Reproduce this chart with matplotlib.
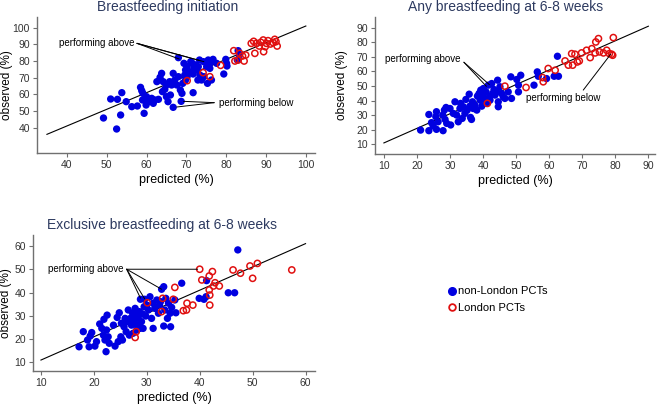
import matplotlib
matplotlib.use("Agg")
import matplotlib.pyplot as plt
from matplotlib.lines import Line2D

plt.rcParams['font.family'] = ['Liberation Sans', 'DejaVu Sans']

# ---- Breastfeeding initiation ----
init_blue_x = [49.2, 51.0, 52.7, 52.5, 53.5, 53.8, 54.9, 56.3, 57.7, 58.5, 58.8, 59.0, 59.4, 59.1,
               60.0, 60.4, 59.9, 61.7, 62.1, 61.3, 63.0, 62.6, 63.4, 63.8, 64.2, 64.0, 64.6, 65.0,
               65.0, 65.4, 65.8, 66.3, 66.0, 66.7, 67.1, 66.7, 67.6, 68.0, 68.0, 68.5, 68.9, 68.7,
               69.1, 69.4, 69.6, 69.8, 69.8, 70.2, 70.2, 70.7, 71.1, 71.5, 71.7, 71.9, 71.7, 72.3,
               72.7, 72.9, 73.0, 73.3, 73.4, 73.8, 74.3, 74.4, 75.1, 75.3, 75.5, 75.9, 75.9, 76.3,
               76.7, 77.6, 79.4, 79.9, 80.1, 80.2, 83.0, 83.3, 82.8]
init_blue_y = [45.8, 57.2, 57.0, 39.2, 47.6, 61.0, 55.6, 52.6, 53.0, 64.2, 62.2, 56.6, 48.6, 60.6,
               58.6, 55.6, 53.6, 54.6, 56.6, 57.6, 57.0, 67.6, 70.2, 72.6, 67.6, 61.6, 63.0, 65.6,
               58.6, 55.6, 67.6, 65.6, 59.6, 72.6, 68.6, 52.2, 65.6, 82.0, 70.6, 62.6, 60.6, 55.8,
               66.6, 78.6, 71.6, 74.6, 68.6, 76.6, 70.6, 73.6, 79.6, 78.6, 72.2, 75.6, 61.0, 77.6,
               74.6, 68.6, 76.6, 80.6, 71.6, 68.6, 79.6, 70.6, 76.6, 66.6, 80.6, 78.6, 75.6, 68.6,
               81.0, 78.6, 72.2, 81.0, 78.6, 77.0, 86.2, 83.6, 80.6]
init_red_x = [70.2, 74.2, 75.9, 78.6, 81.9, 82.2, 83.0, 83.4, 84.1, 84.5, 84.9, 86.3, 86.9, 87.2,
              87.6, 88.3, 88.7, 89.3, 89.4, 89.8, 90.1, 90.5, 91.1, 91.8, 92.2, 92.5, 92.8]
init_red_y = [68.2, 73.0, 70.6, 77.4, 86.2, 80.0, 80.6, 84.6, 83.0, 80.0, 83.6, 90.6, 91.8, 84.6,
              90.6, 89.0, 91.2, 92.6, 85.6, 88.6, 90.6, 92.2, 90.2, 91.0, 93.0, 91.6, 89.0]
init_fit_x = [35, 100]
init_fit_y = [36, 101]

# ---- Any breastfeeding at 6-8 weeks ----
any_blue_x = [21.1, 23.6, 23.6, 24.4, 24.9, 25.7, 25.9, 25.9, 26.4, 27.8, 27.9, 28.3, 28.5, 28.8,
              29.0, 30.0, 30.2, 31.0, 31.5, 32.0, 32.5, 33.0, 33.2, 33.7, 34.0, 34.5, 34.8, 35.2,
              35.8, 36.0, 36.2, 36.5, 36.8, 37.0, 37.5, 38.1, 38.3, 38.8, 39.1, 39.3, 39.6, 39.9,
              40.1, 40.3, 40.9, 41.1, 41.6, 41.9, 42.1, 42.6, 42.9, 43.3, 43.6, 44.1, 44.4, 44.6,
              44.6, 45.1, 45.6, 46.1, 46.6, 47.6, 48.4, 48.6, 50.2, 50.7, 50.7, 51.4, 55.4, 56.4,
              56.7, 59.2, 61.5, 62.5, 62.8]
any_blue_y = [19.8, 30.5, 19.4, 24.9, 22.6, 29.0, 20.3, 32.4, 25.5, 30.1, 19.4, 33.5, 27.1, 35.3,
              24.4, 34.6, 23.3, 31.2, 39.2, 30.1, 25.5, 34.6, 38.1, 27.8, 35.8, 31.2, 40.8, 33.5,
              44.4, 36.2, 28.5, 27.1, 39.2, 34.6, 36.9, 33.5, 43.1, 44.9, 40.3, 47.2, 36.2, 43.8,
              48.3, 40.8, 46.0, 38.1, 50.6, 42.6, 40.3, 51.7, 44.9, 47.6, 43.8, 46.0, 54.0, 39.2,
              35.8, 49.5, 44.9, 42.6, 41.5, 46.0, 56.3, 41.5, 54.5, 50.6, 46.0, 57.4, 50.6, 59.7,
              56.7, 55.1, 56.7, 70.4, 56.7]
any_red_x = [41.3, 46.6, 53.0, 58.0, 58.2, 59.7, 61.8, 64.8, 65.8, 66.8, 67.1, 67.8, 68.5, 69.1,
             69.8, 71.3, 72.4, 72.9, 73.9, 74.1, 74.9, 75.2, 76.4, 77.4, 78.2, 78.9, 79.4, 79.2]
any_red_y = [38.1, 49.9, 49.0, 55.8, 52.9, 62.0, 60.8, 67.2, 64.3, 72.2, 64.3, 71.8, 66.5, 67.2,
             72.7, 74.5, 69.5, 75.6, 72.7, 80.2, 82.5, 73.4, 72.7, 74.5, 72.2, 71.8, 83.2, 71.1]
any_fit_x = [10, 90]
any_fit_y = [11, 91]

# ---- Exclusive breastfeeding at 6-8 weeks ----
exc_blue_x = [17.2, 18.0, 18.8, 19.1, 19.3, 19.6, 20.2, 20.5, 21.1, 21.5, 21.8, 21.9, 22.1, 22.3,
              22.4, 22.5, 22.7, 22.9, 23.7, 24.0, 24.4, 24.6, 24.8, 25.1, 25.2, 25.4, 25.7, 25.9,
              26.1, 26.3, 26.5, 26.7, 26.9, 27.1, 27.3, 27.4, 27.6, 27.8, 28.0, 28.1, 28.2, 28.4,
              28.6, 28.7, 28.8, 29.0, 29.2, 29.3, 29.5, 29.6, 29.8, 30.0, 30.3, 30.6, 30.9, 31.2,
              31.5, 31.9, 31.2, 32.2, 32.4, 32.6, 32.8, 33.2, 33.2, 33.4, 33.6, 33.9, 34.1, 34.4,
              34.5, 34.7, 35.3, 35.5, 36.6, 39.9, 40.8, 41.2, 41.3, 45.4, 46.6, 47.2]
exc_blue_y = [16.7, 23.2, 19.6, 16.7, 21.3, 22.8, 17.0, 18.9, 26.5, 24.6, 21.7, 28.5, 19.6, 14.6,
              23.9, 30.3, 21.0, 18.2, 26.0, 17.0, 29.3, 18.9, 31.3, 21.0, 26.8, 19.6, 25.3, 28.9,
              23.2, 27.5, 32.5, 21.7, 28.9, 26.0, 31.1, 22.5, 27.9, 33.2, 30.3, 23.9, 26.0, 28.9,
              31.8, 24.6, 37.1, 27.5, 30.8, 24.6, 33.9, 37.1, 29.9, 34.6, 32.5, 38.2, 28.9, 35.4,
              33.2, 36.8, 24.6, 31.1, 34.6, 36.1, 41.4, 42.5, 25.6, 32.5, 37.5, 28.9, 35.4, 31.1,
              25.3, 33.6, 36.8, 31.3, 44.0, 37.5, 37.1, 38.2, 45.1, 39.9, 39.9, 58.3]
exc_red_x = [27.8, 28.0, 30.1, 32.8, 33.0, 35.0, 35.3, 36.9, 37.5, 37.6, 38.7, 40.0, 40.4, 41.8,
             41.8, 41.9, 41.9, 42.4, 42.6, 42.9, 43.7, 46.3, 47.7, 49.5, 50.0, 50.9, 57.4]
exc_red_y = [20.7, 23.2, 35.6, 31.8, 37.5, 37.1, 42.2, 32.2, 32.5, 35.4, 34.6, 50.0, 45.4, 47.1,
             41.1, 38.9, 34.6, 49.0, 42.8, 44.2, 42.8, 49.7, 48.3, 51.4, 46.1, 52.5, 49.7]
exc_fit_x = [10, 60]
exc_fit_y = [11, 61]

title_color = '#2d3a60'
blue = '#0000e0'
red = '#e01010'


def panel(rect, title, bx, by, rx, ry, fx, fy, xlim, ylim, ticks, title_x, ylab_x):
    ax = fig.add_axes(rect)
    ax.plot(fx, fy, color='black', lw=0.8, zorder=1)
    ax.scatter(bx, by, s=28, color=blue, edgecolors='none', zorder=2)
    ax.scatter(rx, ry, s=20, facecolors='none', edgecolors=red, linewidths=1.1, zorder=3)
    ax.set_xlim(xlim)
    ax.set_ylim(ylim)
    ax.set_xticks(ticks[0])
    ax.set_yticks(ticks[1])
    for s in ['top', 'right']:
        ax.spines[s].set_visible(False)
    for s in ['left', 'bottom']:
        ax.spines[s].set_color('#707070')
        ax.spines[s].set_linewidth(1.0)
    ax.tick_params(direction='out', length=3, width=0.8, color='#707070',
                   labelsize=7.5, labelcolor='#333333', pad=2)
    ax.set_xlabel('predicted (%)', fontsize=9, labelpad=3)
    ax.set_ylabel('observed (%)', fontsize=8.5)
    ax.yaxis.set_label_coords(ylab_x, 0.5)
    ax.set_title(title, fontsize=10, color=title_color, pad=4, x=title_x)
    return ax


def pointer(ax, origin, targets):
    for t in targets:
        ax.annotate('', xy=t, xytext=origin,
                    arrowprops=dict(arrowstyle='-', lw=0.7, color='black',
                                    shrinkA=0, shrinkB=0))


fig = plt.figure(figsize=(6.59, 4.08), dpi=100)

ax1 = panel([0.0561, 0.625, 0.4219, 0.3333], 'Breastfeeding initiation',
            init_blue_x, init_blue_y, init_red_x, init_red_y, init_fit_x, init_fit_y,
            (32.5, 102.3), (24.8, 106.4), (range(40, 101, 10), range(40, 101, 10)),
            0.471, -0.088)
ax1.text(47.4, 90.6, 'performing above', fontsize=7, ha='center', va='center')
pointer(ax1, (57.6, 90.6), [(68.2, 81.2), (73.2, 80.4), (74.4, 79.6)])
ax1.text(78.3, 55.0, 'performing below', fontsize=7, ha='left', va='center')
pointer(ax1, (77.0, 55.0), [(69.3, 55.8), (67.6, 52.4)])

ax2 = panel([0.569, 0.6225, 0.4249, 0.3358], 'Any breastfeeding at 6-8 weeks',
            any_blue_x, any_blue_y, any_red_x, any_red_y, any_fit_x, any_fit_y,
            (7.3, 92.0), (3.4, 97.3), (range(10, 91, 10), range(10, 91, 10)),
            0.468, -0.098)
ax2.text(21.7, 68.6, 'performing above', fontsize=7, ha='center', va='center')
pointer(ax2, (34.2, 66.3), [(41.9, 51.0), (41.0, 49.8)])
ax2.text(64.3, 41.5, 'performing below', fontsize=7, ha='center', va='center')
pointer(ax2, (70.3, 47.2), [(78.6, 71.8)])

ax3 = panel([0.0501, 0.0907, 0.428, 0.3333], 'Exclusive breastfeeding at 6-8 weeks',
            exc_blue_x, exc_blue_y, exc_red_x, exc_red_y, exc_fit_x, exc_fit_y,
            (8.5, 61.8), (6.3, 64.7), (range(10, 61, 10), range(10, 61, 10)),
            0.456, -0.073)
ax3.text(18.5, 50.3, 'performing above', fontsize=7, ha='center', va='center')
pointer(ax3, (26.2, 50.0), [(39.6, 50.0), (32.8, 41.4), (29.6, 37.3), (28.8, 37.6)])

handles = [Line2D([], [], ls='none', marker='o', ms=5.5, color=blue, mec=blue,
                  label='non-London PCTs'),
           Line2D([], [], ls='none', marker='o', ms=4.8, mfc='none', mec=red, mew=1.3,
                  label='London PCTs')]
fig.legend(handles=handles, loc='center left', bbox_to_anchor=(0.672, 0.266),
           frameon=False, fontsize=8, handlelength=0.6, handletextpad=0.3,
           labelspacing=0.55, borderpad=0)

fig.savefig('out.png', dpi=100)
